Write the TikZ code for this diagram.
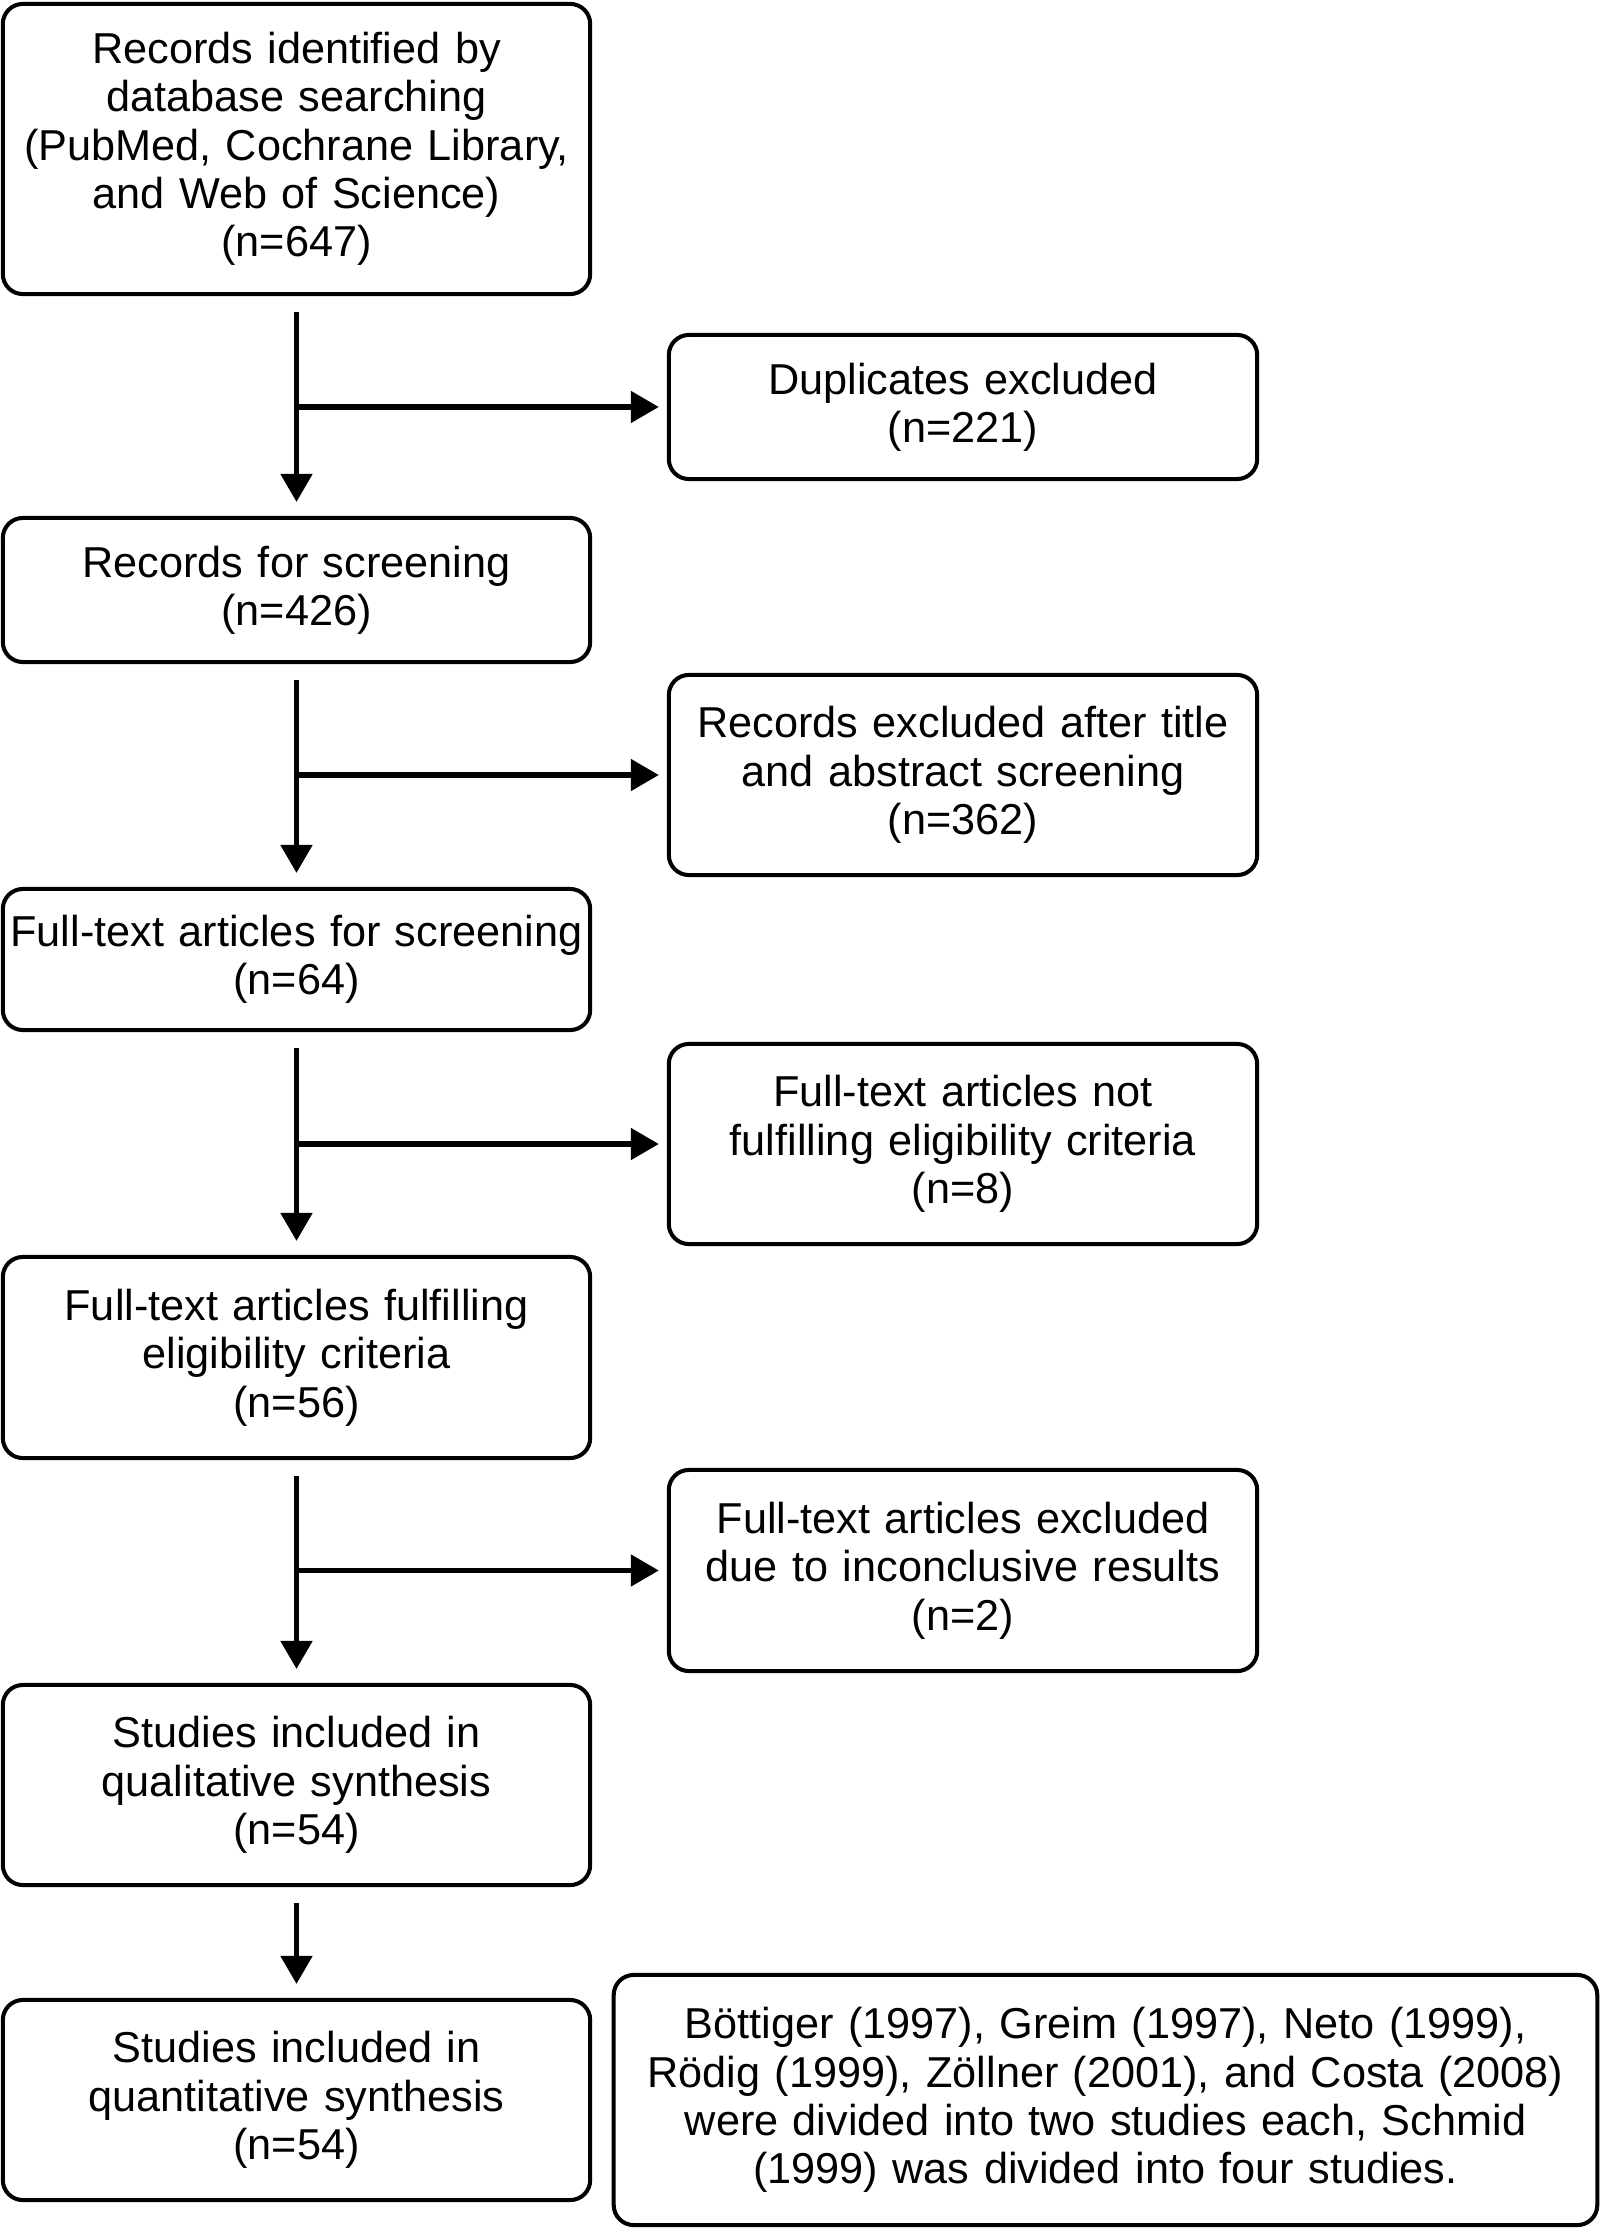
\documentclass[tikz,border=0pt]{standalone}
\usepackage{fontspec}
\setmainfont{Liberation Sans}
\usetikzlibrary{arrows.meta}

\begin{document}
\begin{tikzpicture}[x=0.01cm,y=-0.01cm,
    box/.style={draw,line width=1.15pt,rounded corners=0.2cm,align=center,inner sep=0pt,
      font=\fontsize{12.3}{13.74}\selectfont},
    leftbox/.style={box,minimum width=5.87cm,text width=5.75cm},
    rightbox/.style={box,minimum width=5.88cm,text width=5.75cm},
    flow/.style={line width=1.45pt,-{Triangle[length=0.28cm,width=0.31cm]}}]
    \useasboundingbox (0,0) rectangle (1601,2228);
    % main column
    \node[leftbox,minimum height=2.90cm] (rec) at (296.5,149) {Records identified by\\database searching\\(PubMed, Cochrane Library,\\and Web of Science)\\(n=647)};
    \node[leftbox,minimum height=1.44cm] (scr) at (296.5,590) {Records for screening\\(n=426)};
    \node[leftbox,minimum height=1.41cm] (full) at (296.5,959.5) {Full-text articles for screening\\(n=64)};
    \node[leftbox,minimum height=2.01cm] (elig) at (296.5,1357.5) {Full-text articles fulfilling\\eligibility criteria\\(n=56)};
    \node[leftbox,minimum height=2.00cm] (qual) at (296.5,1785) {Studies included in\\qualitative synthesis\\(n=54)};
    \node[leftbox,minimum height=2.00cm] (quan) at (296.5,2100) {Studies included in\\quantitative synthesis\\(n=54)};
    % exclusions
    \node[rightbox,minimum height=1.44cm] (dup) at (963,407) {Duplicates excluded\\(n=221)};
    \node[rightbox,minimum height=2.00cm] (tiab) at (963,775) {Records excluded after title\\and abstract screening\\(n=362)};
    \node[rightbox,minimum height=2.00cm] (nelig) at (963,1144) {Full-text articles not\\fulfilling eligibility criteria\\(n=8)};
    \node[rightbox,minimum height=2.01cm] (inc) at (963,1570.5) {Full-text articles excluded\\due to inconclusive results\\(n=2)};
    \node[box,minimum width=9.83cm,minimum height=2.50cm,text width=9.5cm] (note) at (1105.5,2100) {Böttiger (1997), Greim (1997), Neto (1999),\\Rödig (1999), Zöllner (2001), and Costa (2008)\\were divided into two studies each, Schmid\\(1999) was divided into four studies.};

    \foreach \a/\b in {rec/scr, scr/full, full/elig, elig/qual, qual/quan}
    \draw[flow,shorten <=0.16cm,shorten >=0.14cm] (\a.south) -- (\b.north);
    \foreach \a/\e in {rec/dup, scr/tiab, full/nelig, elig/inc}
    \draw[flow,shorten >=0.08cm] (\a.south |- \e.west) -- (\e.west);
\end{tikzpicture}
\end{document}
